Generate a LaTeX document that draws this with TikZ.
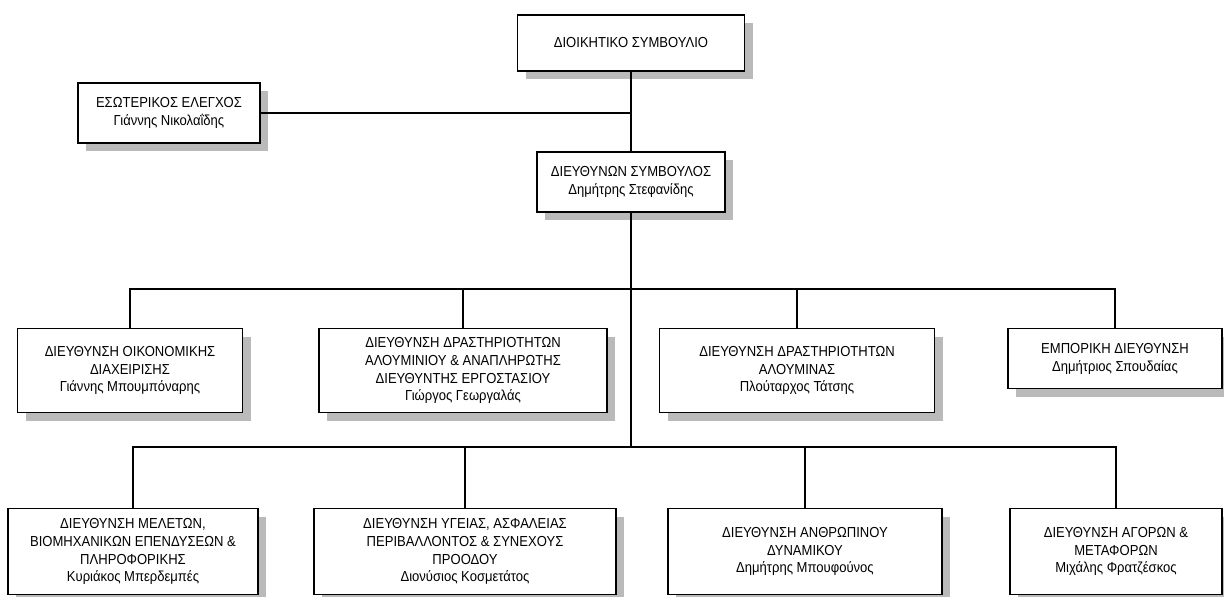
\documentclass[tikz,border=0pt]{standalone}
\usepackage{fontspec}
\setmainfont{Liberation Sans}[FakeStretch=0.9]
\usetikzlibrary{shadows}

\begin{document}
\begin{tikzpicture}[x=1pt, y=-1pt, line width=1.2pt,
  unit/.style={draw, fill=white, align=center, inner sep=2pt,
    font=\fontsize{14.5}{17.8}\selectfont,
    general shadow={fill=black!27, shadow xshift=8pt, shadow yshift=-8pt}}]

\useasboundingbox (0,0) rectangle (1224,597);

\node[unit, minimum width=227pt, minimum height=56pt] (board) at (631,43) {ΔΙΟΙΚΗΤΙΚΟ ΣΥΜΒΟΥΛΙΟ};
\node[unit, minimum width=182pt, minimum height=60pt] (audit) at (169,113) {ΕΣΩΤΕΡΙΚΟΣ ΕΛΕΓΧΟΣ\\Γιάννης Νικολαΐδης};
\node[unit, minimum width=188pt, minimum height=60pt] (ceo) at (631,182) {ΔΙΕΥΘΥΝΩΝ ΣΥΜΒΟΥΛΟΣ\\Δημήτρης Στεφανίδης};

\node[unit, anchor=north, minimum width=225pt, minimum height=84pt] (finance) at (130,328) {ΔΙΕΥΘΥΝΣΗ ΟΙΚΟΝΟΜΙΚΗΣ\\ΔΙΑΧΕΙΡΙΣΗΣ\\Γιάννης Μπουμπόναρης};
\node[unit, anchor=north, minimum width=288pt, minimum height=84pt] (aluminium) at (463,328) {ΔΙΕΥΘΥΝΣΗ ΔΡΑΣΤΗΡΙΟΤΗΤΩΝ\\ΑΛΟΥΜΙΝΙΟΥ \& ΑΝΑΠΛΗΡΩΤΗΣ\\ΔΙΕΥΘΥΝΤΗΣ ΕΡΓΟΣΤΑΣΙΟΥ\\Γιώργος Γεωργαλάς};
\node[unit, anchor=north, minimum width=275pt, minimum height=84pt] (alumina) at (797,328) {ΔΙΕΥΘΥΝΣΗ ΔΡΑΣΤΗΡΙΟΤΗΤΩΝ\\ΑΛΟΥΜΙΝΑΣ\\Πλούταρχος Τάτσης};
\node[unit, anchor=north, minimum width=214pt, minimum height=60pt] (sales) at (1115,328) {ΕΜΠΟΡΙΚΗ ΔΙΕΥΘΥΝΣΗ\\Δημήτριος Σπουδαίας};

\node[unit, anchor=north, minimum width=250pt, minimum height=86pt] (studies) at (133,508) {ΔΙΕΥΘΥΝΣΗ ΜΕΛΕΤΩΝ,\\ΒΙΟΜΗΧΑΝΙΚΩΝ ΕΠΕΝΔΥΣΕΩΝ \&\\ΠΛΗΡΟΦΟΡΙΚΗΣ\\Κυριάκος Μπερδεμπές};
\node[unit, anchor=north, minimum width=302pt, minimum height=86pt] (safety) at (465,508) {ΔΙΕΥΘΥΝΣΗ ΥΓΕΙΑΣ, ΑΣΦΑΛΕΙΑΣ\\ΠΕΡΙΒΑΛΛΟΝΤΟΣ \& ΣΥΝΕΧΟΥΣ\\ΠΡΟΟΔΟΥ\\Διονύσιος Κοσμετάτος};
\node[unit, anchor=north, minimum width=274pt, minimum height=86pt] (hr) at (805,508) {ΔΙΕΥΘΥΝΣΗ ΑΝΘΡΩΠΙΝΟΥ\\ΔΥΝΑΜΙΚΟΥ\\Δημήτρης Μπουφούνος};
\node[unit, anchor=north, minimum width=212pt, minimum height=86pt] (logistics) at (1116,508) {ΔΙΕΥΘΥΝΣΗ ΑΓΟΡΩΝ \&\\ΜΕΤΑΦΟΡΩΝ\\Μιχάλης Φρατζέσκος};

\coordinate (bus1) at (631,289);
\coordinate (bus2) at (631,447);

\draw (board) -- (ceo);
\draw (audit.east) -- (audit.east -| board.south);
\draw (ceo.south) -- (bus2);
\draw (bus1) -| (finance.north);
\draw (bus1) -| (aluminium.north);
\draw (bus1) -| (alumina.north);
\draw (bus1) -| (sales.north);
\draw (bus2) -| (studies.north);
\draw (bus2) -| (safety.north);
\draw (bus2) -| (hr.north);
\draw (bus2) -| (logistics.north);

\end{tikzpicture}
\end{document}
